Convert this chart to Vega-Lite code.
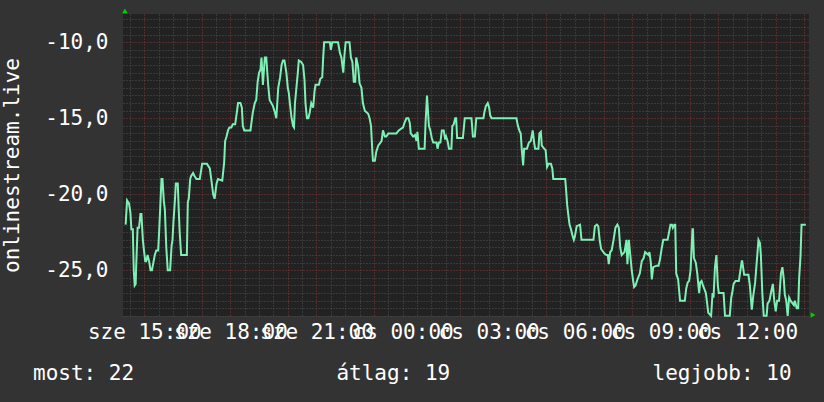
{
  "$schema": "https://vega.github.io/schema/vega-lite/v6.json",
  "width": 686,
  "height": 302,
  "autosize": {"type": "none"},
  "padding": {"left": 123, "top": 14, "right": 15, "bottom": 86},
  "background": "#333333",
  "title": {
    "text": "most: 22\u00a0\u00a0\u00a0\u00a0\u00a0\u00a0\u00a0\u00a0\u00a0\u00a0\u00a0\u00a0\u00a0\u00a0\u00a0\u00a0átlag: 19\u00a0\u00a0\u00a0\u00a0\u00a0\u00a0\u00a0\u00a0\u00a0\u00a0\u00a0\u00a0\u00a0\u00a0\u00a0\u00a0legjobb: 10",
    "orient": "bottom",
    "anchor": "start",
    "frame": "group",
    "dx": -90,
    "offset": 38,
    "baseline": "alphabetic",
    "font": "DejaVu Sans Mono",
    "fontSize": 21,
    "fontWeight": "normal",
    "color": "#ffffff"
  },
  "encoding": {
    "x": {
      "field": "t",
      "type": "temporal",
      "scale": {"domain": ["2024-09-11T14:15:30", "2024-09-12T14:09:36"], "nice": false},
      "axis": {
        "title": null,
        "tickCount": 48,
        "labelExpr": "(minutes(datum.value) == 0 && hours(datum.value) % 3 == 0) ? ((day(datum.value) == 3 ? 'sze ' : 'cs ') + timeFormat(datum.value, '%H:%M')) : ''",
        "labelPadding": 5,
        "labelBaseline": "top",
        "gridColor": {"condition": {"test": "minutes(datum.value) == 0", "value": "#843838"}, "value": "#505050"}
      }
    },
    "y": {
      "field": "v",
      "type": "quantitative",
      "scale": {"domain": [-28.01, -8.14], "nice": false, "zero": false},
      "axis": {
        "title": "onlinestream.live",
        "values": [-28, -27.5, -27, -26.5, -26, -25.5, -25, -24.5, -24, -23.5, -23, -22.5, -22, -21.5, -21, -20.5, -20, -19.5, -19, -18.5, -18, -17.5, -17, -16.5, -16, -15.5, -15, -14.5, -14, -13.5, -13, -12.5, -12, -11.5, -11, -10.5, -10, -9.5, -9, -8.5],
        "labelExpr": "datum.value % 5 == 0 ? '-' + replace(format(abs(datum.value), '.1f'), '.', ',') : ''",
        "labelPadding": 15,
        "labelBaseline": "middle",
        "gridColor": {"condition": {"test": "datum.value % 5 == 0", "value": "#843838"}, "value": "#505050"},
        "titleX": -111,
        "titleY": 151,
        "titleAngle": -90,
        "titleAlign": "center",
        "titleBaseline": "middle"
      }
    }
  },
  "layer": [
    {
      "data": {"values": [
        {"t": "2024-09-11T14:21", "v": -22.0}, {"t": "2024-09-11T14:24", "v": -20.4}, {"t": "2024-09-11T14:28", "v": -20.6}, {"t": "2024-09-11T14:31", "v": -21.2},
        {"t": "2024-09-11T14:33", "v": -22.3}, {"t": "2024-09-11T14:36", "v": -22.3}, {"t": "2024-09-11T14:38", "v": -25.0}, {"t": "2024-09-11T14:40", "v": -26.0},
        {"t": "2024-09-11T14:42", "v": -25.9}, {"t": "2024-09-11T14:43", "v": -24.8}, {"t": "2024-09-11T14:46", "v": -22.2}, {"t": "2024-09-11T14:49", "v": -22.2},
        {"t": "2024-09-11T14:52", "v": -21.3}, {"t": "2024-09-11T14:54", "v": -21.3}, {"t": "2024-09-11T14:57", "v": -23.0}, {"t": "2024-09-11T14:59", "v": -23.6},
        {"t": "2024-09-11T15:02", "v": -24.4}, {"t": "2024-09-11T15:04", "v": -24.4}, {"t": "2024-09-11T15:07", "v": -24.0}, {"t": "2024-09-11T15:10", "v": -24.4},
        {"t": "2024-09-11T15:13", "v": -25.0}, {"t": "2024-09-11T15:16", "v": -25.0}, {"t": "2024-09-11T15:19", "v": -24.5}, {"t": "2024-09-11T15:22", "v": -24.0},
        {"t": "2024-09-11T15:25", "v": -23.7}, {"t": "2024-09-11T15:29", "v": -23.7}, {"t": "2024-09-11T15:31", "v": -22.5}, {"t": "2024-09-11T15:34", "v": -20.4},
        {"t": "2024-09-11T15:36", "v": -19.0}, {"t": "2024-09-11T15:38", "v": -19.0}, {"t": "2024-09-11T15:41", "v": -20.5}, {"t": "2024-09-11T15:43", "v": -21.0},
        {"t": "2024-09-11T15:46", "v": -23.5}, {"t": "2024-09-11T15:49", "v": -25.0}, {"t": "2024-09-11T15:54", "v": -25.0}, {"t": "2024-09-11T15:57", "v": -23.4},
        {"t": "2024-09-11T15:59", "v": -23.0}, {"t": "2024-09-11T16:01", "v": -21.8}, {"t": "2024-09-11T16:04", "v": -20.4}, {"t": "2024-09-11T16:06", "v": -19.3},
        {"t": "2024-09-11T16:10", "v": -19.3}, {"t": "2024-09-11T16:12", "v": -21.0}, {"t": "2024-09-11T16:14", "v": -22.5}, {"t": "2024-09-11T16:17", "v": -24.0},
        {"t": "2024-09-11T16:29", "v": -24.0}, {"t": "2024-09-11T16:31", "v": -20.5}, {"t": "2024-09-11T16:33", "v": -20.3}, {"t": "2024-09-11T16:36", "v": -19.0},
        {"t": "2024-09-11T16:38", "v": -18.8}, {"t": "2024-09-11T16:42", "v": -18.6}, {"t": "2024-09-11T16:45", "v": -18.8}, {"t": "2024-09-11T16:49", "v": -19.0},
        {"t": "2024-09-11T16:56", "v": -19.0}, {"t": "2024-09-11T16:59", "v": -18.4}, {"t": "2024-09-11T17:01", "v": -18.0}, {"t": "2024-09-11T17:11", "v": -18.0},
        {"t": "2024-09-11T17:17", "v": -18.3}, {"t": "2024-09-11T17:20", "v": -19.0}, {"t": "2024-09-11T17:24", "v": -20.0}, {"t": "2024-09-11T17:27", "v": -20.3},
        {"t": "2024-09-11T17:31", "v": -19.3}, {"t": "2024-09-11T17:34", "v": -19.0}, {"t": "2024-09-11T17:43", "v": -19.1}, {"t": "2024-09-11T17:47", "v": -17.9},
        {"t": "2024-09-11T17:49", "v": -16.5}, {"t": "2024-09-11T17:52", "v": -16.2}, {"t": "2024-09-11T17:55", "v": -15.8}, {"t": "2024-09-11T17:58", "v": -15.6},
        {"t": "2024-09-11T18:02", "v": -15.6}, {"t": "2024-09-11T18:05", "v": -15.4}, {"t": "2024-09-11T18:10", "v": -15.4}, {"t": "2024-09-11T18:14", "v": -14.5},
        {"t": "2024-09-11T18:16", "v": -14.0}, {"t": "2024-09-11T18:21", "v": -14.0}, {"t": "2024-09-11T18:24", "v": -14.3}, {"t": "2024-09-11T18:26", "v": -15.5},
        {"t": "2024-09-11T18:29", "v": -15.8}, {"t": "2024-09-11T18:42", "v": -15.8}, {"t": "2024-09-11T18:44", "v": -15.3}, {"t": "2024-09-11T18:47", "v": -14.6},
        {"t": "2024-09-11T18:51", "v": -14.0}, {"t": "2024-09-11T18:54", "v": -13.8}, {"t": "2024-09-11T18:57", "v": -12.6}, {"t": "2024-09-11T19:00", "v": -12.0},
        {"t": "2024-09-11T19:03", "v": -11.8}, {"t": "2024-09-11T19:05", "v": -11.0}, {"t": "2024-09-11T19:08", "v": -12.8}, {"t": "2024-09-11T19:12", "v": -11.0},
        {"t": "2024-09-11T19:15", "v": -11.0}, {"t": "2024-09-11T19:19", "v": -12.8}, {"t": "2024-09-11T19:22", "v": -13.8}, {"t": "2024-09-11T19:29", "v": -14.2},
        {"t": "2024-09-11T19:33", "v": -14.6}, {"t": "2024-09-11T19:36", "v": -15.0}, {"t": "2024-09-11T19:40", "v": -13.0}, {"t": "2024-09-11T19:44", "v": -12.3},
        {"t": "2024-09-11T19:47", "v": -11.5}, {"t": "2024-09-11T19:50", "v": -11.2}, {"t": "2024-09-11T19:53", "v": -11.2}, {"t": "2024-09-11T19:57", "v": -12.0},
        {"t": "2024-09-11T20:00", "v": -13.0}, {"t": "2024-09-11T20:02", "v": -13.3}, {"t": "2024-09-11T20:05", "v": -14.2}, {"t": "2024-09-11T20:08", "v": -15.0},
        {"t": "2024-09-11T20:11", "v": -15.5}, {"t": "2024-09-11T20:13", "v": -15.6}, {"t": "2024-09-11T20:15", "v": -14.0}, {"t": "2024-09-11T20:18", "v": -13.0},
        {"t": "2024-09-11T20:21", "v": -12.0}, {"t": "2024-09-11T20:23", "v": -11.2}, {"t": "2024-09-11T20:28", "v": -11.3}, {"t": "2024-09-11T20:32", "v": -11.5},
        {"t": "2024-09-11T20:35", "v": -12.5}, {"t": "2024-09-11T20:37", "v": -14.0}, {"t": "2024-09-11T20:40", "v": -15.0}, {"t": "2024-09-11T20:43", "v": -15.0},
        {"t": "2024-09-11T20:46", "v": -14.6}, {"t": "2024-09-11T20:49", "v": -14.0}, {"t": "2024-09-11T20:53", "v": -14.3}, {"t": "2024-09-11T20:56", "v": -13.2},
        {"t": "2024-09-11T20:58", "v": -12.8}, {"t": "2024-09-11T21:05", "v": -12.8}, {"t": "2024-09-11T21:08", "v": -12.4}, {"t": "2024-09-11T21:12", "v": -12.3},
        {"t": "2024-09-11T21:14", "v": -11.0}, {"t": "2024-09-11T21:16", "v": -10.0}, {"t": "2024-09-11T21:28", "v": -10.0}, {"t": "2024-09-11T21:30", "v": -10.5},
        {"t": "2024-09-11T21:33", "v": -10.0}, {"t": "2024-09-11T21:45", "v": -10.0}, {"t": "2024-09-11T21:49", "v": -10.7}, {"t": "2024-09-11T21:52", "v": -11.0},
        {"t": "2024-09-11T21:56", "v": -12.0}, {"t": "2024-09-11T21:58", "v": -11.0}, {"t": "2024-09-11T22:01", "v": -10.0}, {"t": "2024-09-11T22:09", "v": -10.0},
        {"t": "2024-09-11T22:12", "v": -11.0}, {"t": "2024-09-11T22:15", "v": -11.3}, {"t": "2024-09-11T22:18", "v": -12.6}, {"t": "2024-09-11T22:21", "v": -12.6},
        {"t": "2024-09-11T22:23", "v": -11.0}, {"t": "2024-09-11T22:27", "v": -11.6}, {"t": "2024-09-11T22:30", "v": -12.7}, {"t": "2024-09-11T22:34", "v": -13.0},
        {"t": "2024-09-11T22:37", "v": -14.0}, {"t": "2024-09-11T22:41", "v": -14.5}, {"t": "2024-09-11T22:48", "v": -14.7}, {"t": "2024-09-11T22:51", "v": -15.0},
        {"t": "2024-09-11T22:54", "v": -15.5}, {"t": "2024-09-11T22:57", "v": -17.3}, {"t": "2024-09-11T22:58", "v": -17.8}, {"t": "2024-09-11T23:02", "v": -17.8},
        {"t": "2024-09-11T23:05", "v": -17.2}, {"t": "2024-09-11T23:09", "v": -16.8}, {"t": "2024-09-11T23:16", "v": -16.5}, {"t": "2024-09-11T23:19", "v": -15.8},
        {"t": "2024-09-11T23:23", "v": -16.2}, {"t": "2024-09-11T23:26", "v": -16.2}, {"t": "2024-09-11T23:30", "v": -16.0}, {"t": "2024-09-11T23:47", "v": -16.0},
        {"t": "2024-09-11T23:52", "v": -15.8}, {"t": "2024-09-12T00:01", "v": -15.6}, {"t": "2024-09-12T00:04", "v": -15.3}, {"t": "2024-09-12T00:08", "v": -15.0},
        {"t": "2024-09-12T00:12", "v": -15.0}, {"t": "2024-09-12T00:15", "v": -15.3}, {"t": "2024-09-12T00:17", "v": -16.0}, {"t": "2024-09-12T00:22", "v": -16.2},
        {"t": "2024-09-12T00:26", "v": -16.1}, {"t": "2024-09-12T00:29", "v": -16.5}, {"t": "2024-09-12T00:31", "v": -15.9}, {"t": "2024-09-12T00:34", "v": -17.0},
        {"t": "2024-09-12T00:46", "v": -17.0}, {"t": "2024-09-12T00:48", "v": -15.3}, {"t": "2024-09-12T00:51", "v": -13.5}, {"t": "2024-09-12T00:53", "v": -14.5},
        {"t": "2024-09-12T00:55", "v": -15.5}, {"t": "2024-09-12T00:58", "v": -15.8}, {"t": "2024-09-12T01:01", "v": -16.3}, {"t": "2024-09-12T01:04", "v": -16.6},
        {"t": "2024-09-12T01:11", "v": -16.6}, {"t": "2024-09-12T01:13", "v": -17.0}, {"t": "2024-09-12T01:16", "v": -16.6}, {"t": "2024-09-12T01:19", "v": -16.6},
        {"t": "2024-09-12T01:22", "v": -15.8}, {"t": "2024-09-12T01:26", "v": -15.8}, {"t": "2024-09-12T01:29", "v": -16.4}, {"t": "2024-09-12T01:31", "v": -16.2},
        {"t": "2024-09-12T01:34", "v": -16.5}, {"t": "2024-09-12T01:37", "v": -17.0}, {"t": "2024-09-12T01:42", "v": -17.0}, {"t": "2024-09-12T01:44", "v": -15.5},
        {"t": "2024-09-12T01:47", "v": -15.4}, {"t": "2024-09-12T01:50", "v": -15.0}, {"t": "2024-09-12T01:52", "v": -15.0}, {"t": "2024-09-12T01:54", "v": -16.3},
        {"t": "2024-09-12T02:06", "v": -16.3}, {"t": "2024-09-12T02:10", "v": -15.0}, {"t": "2024-09-12T02:24", "v": -15.0}, {"t": "2024-09-12T02:27", "v": -16.2},
        {"t": "2024-09-12T02:31", "v": -16.2}, {"t": "2024-09-12T02:34", "v": -15.0}, {"t": "2024-09-12T02:49", "v": -15.0}, {"t": "2024-09-12T02:51", "v": -14.6},
        {"t": "2024-09-12T02:54", "v": -14.2}, {"t": "2024-09-12T02:58", "v": -14.0}, {"t": "2024-09-12T03:01", "v": -14.3}, {"t": "2024-09-12T03:03", "v": -14.8},
        {"t": "2024-09-12T03:06", "v": -15.0}, {"t": "2024-09-12T03:58", "v": -15.0}, {"t": "2024-09-12T04:01", "v": -15.5}, {"t": "2024-09-12T04:04", "v": -15.8},
        {"t": "2024-09-12T04:07", "v": -16.0}, {"t": "2024-09-12T04:09", "v": -17.0}, {"t": "2024-09-12T04:12", "v": -18.1}, {"t": "2024-09-12T04:14", "v": -17.0},
        {"t": "2024-09-12T04:20", "v": -17.0}, {"t": "2024-09-12T04:24", "v": -16.6}, {"t": "2024-09-12T04:28", "v": -16.5}, {"t": "2024-09-12T04:32", "v": -15.8},
        {"t": "2024-09-12T04:35", "v": -16.6}, {"t": "2024-09-12T04:37", "v": -17.0}, {"t": "2024-09-12T04:44", "v": -17.0}, {"t": "2024-09-12T04:46", "v": -16.0},
        {"t": "2024-09-12T04:49", "v": -15.9}, {"t": "2024-09-12T04:51", "v": -16.8}, {"t": "2024-09-12T04:56", "v": -17.0}, {"t": "2024-09-12T04:59", "v": -17.1},
        {"t": "2024-09-12T05:02", "v": -18.2}, {"t": "2024-09-12T05:05", "v": -18.0}, {"t": "2024-09-12T05:10", "v": -18.0}, {"t": "2024-09-12T05:13", "v": -18.3},
        {"t": "2024-09-12T05:15", "v": -19.0}, {"t": "2024-09-12T05:40", "v": -19.0}, {"t": "2024-09-12T05:42", "v": -19.8}, {"t": "2024-09-12T05:44", "v": -20.7},
        {"t": "2024-09-12T05:47", "v": -21.5}, {"t": "2024-09-12T05:49", "v": -22.0}, {"t": "2024-09-12T05:52", "v": -22.3}, {"t": "2024-09-12T05:55", "v": -22.7},
        {"t": "2024-09-12T05:58", "v": -23.0}, {"t": "2024-09-12T06:00", "v": -22.8}, {"t": "2024-09-12T06:04", "v": -22.1}, {"t": "2024-09-12T06:11", "v": -22.0},
        {"t": "2024-09-12T06:14", "v": -23.0}, {"t": "2024-09-12T06:39", "v": -23.0}, {"t": "2024-09-12T06:42", "v": -22.1}, {"t": "2024-09-12T06:46", "v": -22.0},
        {"t": "2024-09-12T06:49", "v": -22.1}, {"t": "2024-09-12T06:52", "v": -23.0}, {"t": "2024-09-12T06:55", "v": -23.6}, {"t": "2024-09-12T07:02", "v": -23.9},
        {"t": "2024-09-12T07:06", "v": -24.0}, {"t": "2024-09-12T07:09", "v": -24.0}, {"t": "2024-09-12T07:11", "v": -24.6}, {"t": "2024-09-12T07:14", "v": -23.8},
        {"t": "2024-09-12T07:17", "v": -23.7}, {"t": "2024-09-12T07:21", "v": -23.0}, {"t": "2024-09-12T07:25", "v": -22.2}, {"t": "2024-09-12T07:29", "v": -22.0},
        {"t": "2024-09-12T07:32", "v": -22.2}, {"t": "2024-09-12T07:35", "v": -23.5}, {"t": "2024-09-12T07:38", "v": -24.0}, {"t": "2024-09-12T07:44", "v": -23.8},
        {"t": "2024-09-12T07:48", "v": -23.0}, {"t": "2024-09-12T07:50", "v": -24.6}, {"t": "2024-09-12T07:53", "v": -23.0}, {"t": "2024-09-12T07:56", "v": -24.0},
        {"t": "2024-09-12T07:59", "v": -25.0}, {"t": "2024-09-12T08:02", "v": -25.7}, {"t": "2024-09-12T08:04", "v": -26.1}, {"t": "2024-09-12T08:07", "v": -26.0},
        {"t": "2024-09-12T08:11", "v": -25.6}, {"t": "2024-09-12T08:16", "v": -25.2}, {"t": "2024-09-12T08:20", "v": -24.4}, {"t": "2024-09-12T08:24", "v": -24.2},
        {"t": "2024-09-12T08:27", "v": -23.8}, {"t": "2024-09-12T08:34", "v": -24.0}, {"t": "2024-09-12T08:36", "v": -23.8}, {"t": "2024-09-12T08:39", "v": -24.5},
        {"t": "2024-09-12T08:41", "v": -25.6}, {"t": "2024-09-12T08:44", "v": -24.8}, {"t": "2024-09-12T08:51", "v": -24.7}, {"t": "2024-09-12T08:55", "v": -24.7},
        {"t": "2024-09-12T08:58", "v": -24.3}, {"t": "2024-09-12T09:02", "v": -23.5}, {"t": "2024-09-12T09:05", "v": -23.0}, {"t": "2024-09-12T09:14", "v": -23.0},
        {"t": "2024-09-12T09:17", "v": -22.5}, {"t": "2024-09-12T09:20", "v": -22.0}, {"t": "2024-09-12T09:23", "v": -22.0}, {"t": "2024-09-12T09:25", "v": -22.2},
        {"t": "2024-09-12T09:28", "v": -22.0}, {"t": "2024-09-12T09:30", "v": -22.0}, {"t": "2024-09-12T09:32", "v": -25.2}, {"t": "2024-09-12T09:36", "v": -25.6},
        {"t": "2024-09-12T09:40", "v": -27.0}, {"t": "2024-09-12T09:50", "v": -27.0}, {"t": "2024-09-12T09:53", "v": -26.2}, {"t": "2024-09-12T09:56", "v": -25.8},
        {"t": "2024-09-12T09:59", "v": -25.7}, {"t": "2024-09-12T10:02", "v": -25.0}, {"t": "2024-09-12T10:06", "v": -22.3}, {"t": "2024-09-12T10:07", "v": -22.3},
        {"t": "2024-09-12T10:09", "v": -24.2}, {"t": "2024-09-12T10:13", "v": -24.5}, {"t": "2024-09-12T10:16", "v": -25.2}, {"t": "2024-09-12T10:20", "v": -26.5},
        {"t": "2024-09-12T10:22", "v": -25.8}, {"t": "2024-09-12T10:25", "v": -25.7}, {"t": "2024-09-12T10:28", "v": -26.0}, {"t": "2024-09-12T10:34", "v": -26.5},
        {"t": "2024-09-12T10:36", "v": -27.0}, {"t": "2024-09-12T10:39", "v": -27.8}, {"t": "2024-09-12T10:45", "v": -28.0}, {"t": "2024-09-12T10:48", "v": -26.5},
        {"t": "2024-09-12T10:50", "v": -26.8}, {"t": "2024-09-12T10:53", "v": -24.8}, {"t": "2024-09-12T10:56", "v": -24.0}, {"t": "2024-09-12T10:59", "v": -26.0},
        {"t": "2024-09-12T11:01", "v": -26.5}, {"t": "2024-09-12T11:11", "v": -26.5}, {"t": "2024-09-12T11:14", "v": -28.0}, {"t": "2024-09-12T11:24", "v": -28.0},
        {"t": "2024-09-12T11:27", "v": -26.8}, {"t": "2024-09-12T11:29", "v": -26.5}, {"t": "2024-09-12T11:32", "v": -25.9}, {"t": "2024-09-12T11:36", "v": -25.7},
        {"t": "2024-09-12T11:43", "v": -25.7}, {"t": "2024-09-12T11:49", "v": -24.4}, {"t": "2024-09-12T11:50", "v": -24.4}, {"t": "2024-09-12T11:54", "v": -25.3},
        {"t": "2024-09-12T12:03", "v": -25.3}, {"t": "2024-09-12T12:06", "v": -26.0}, {"t": "2024-09-12T12:10", "v": -27.6}, {"t": "2024-09-12T12:13", "v": -26.7},
        {"t": "2024-09-12T12:17", "v": -25.8}, {"t": "2024-09-12T12:20", "v": -24.6}, {"t": "2024-09-12T12:24", "v": -23.0}, {"t": "2024-09-12T12:27", "v": -23.2},
        {"t": "2024-09-12T12:29", "v": -24.0}, {"t": "2024-09-12T12:32", "v": -26.5}, {"t": "2024-09-12T12:35", "v": -28.0}, {"t": "2024-09-12T12:41", "v": -28.0},
        {"t": "2024-09-12T12:43", "v": -27.2}, {"t": "2024-09-12T12:47", "v": -27.0}, {"t": "2024-09-12T12:50", "v": -26.5}, {"t": "2024-09-12T12:54", "v": -25.9},
        {"t": "2024-09-12T12:57", "v": -27.0}, {"t": "2024-09-12T13:00", "v": -27.7}, {"t": "2024-09-12T13:03", "v": -27.0}, {"t": "2024-09-12T13:07", "v": -27.0},
        {"t": "2024-09-12T13:11", "v": -25.2}, {"t": "2024-09-12T13:14", "v": -24.8}, {"t": "2024-09-12T13:17", "v": -25.6}, {"t": "2024-09-12T13:19", "v": -26.6},
        {"t": "2024-09-12T13:22", "v": -27.0}, {"t": "2024-09-12T13:25", "v": -28.0}, {"t": "2024-09-12T13:28", "v": -26.8}, {"t": "2024-09-12T13:31", "v": -27.0},
        {"t": "2024-09-12T13:38", "v": -27.3}, {"t": "2024-09-12T13:40", "v": -27.0}, {"t": "2024-09-12T13:44", "v": -27.5}, {"t": "2024-09-12T13:47", "v": -27.5},
        {"t": "2024-09-12T13:49", "v": -25.5}, {"t": "2024-09-12T13:52", "v": -24.0}, {"t": "2024-09-12T13:54", "v": -22.0}, {"t": "2024-09-12T14:03", "v": -22.0}
      ]},
      "mark": {"type": "line", "color": "#7ff0b5", "strokeWidth": 2, "interpolate": "linear"}
    },
    {
      "data": {"values": [{"t": "2024-09-11T14:19:30", "v": -7.94}]},
      "mark": {"type": "point", "shape": "triangle-up", "filled": true, "color": "#00d000", "opacity": 1, "size": 30}
    },
    {
      "data": {"values": [{"t": "2024-09-12T14:18:00", "v": -27.95}]},
      "mark": {"type": "point", "shape": "triangle-right", "filled": true, "color": "#00d000", "opacity": 1, "size": 30}
    }
  ],
  "config": {
    "view": {"fill": "#222222", "stroke": null},
    "axis": {
      "labelFont": "DejaVu Sans Mono",
      "labelFontSize": 21,
      "labelColor": "#ffffff",
      "titleFont": "DejaVu Sans Mono",
      "titleFontSize": 21,
      "titleFontWeight": "normal",
      "titleColor": "#ffffff",
      "domain": false,
      "ticks": false,
      "grid": true,
      "gridDash": [1, 2],
      "gridWidth": 1,
      "gridOpacity": 1,
      "labelOverlap": false,
      "labelFlush": false,
      "labelBound": false
    }
  }
}
